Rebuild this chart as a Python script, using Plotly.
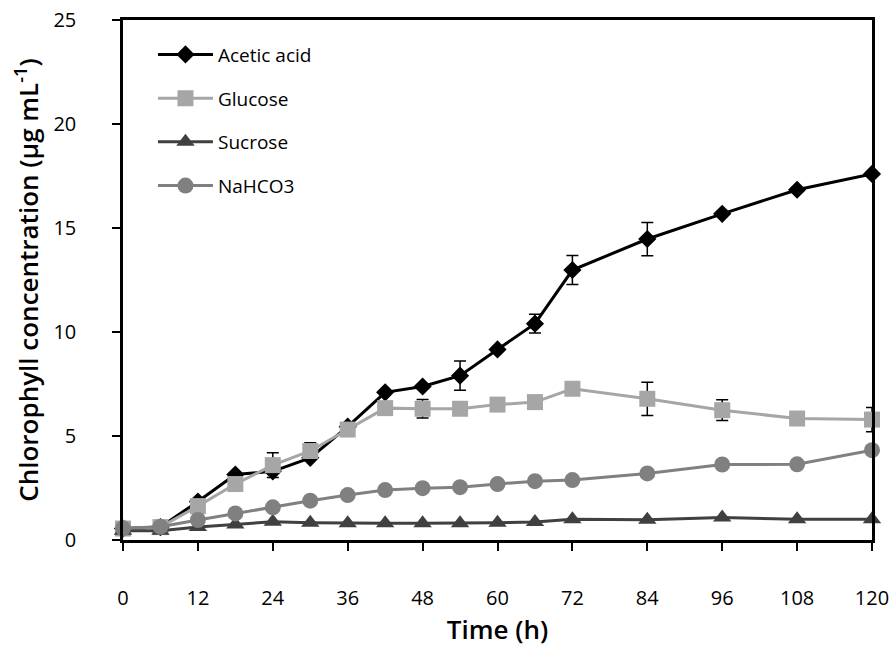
import plotly.graph_objects as go

time_h = [0, 6, 12, 18, 24, 30, 36, 42, 48, 54, 60, 66, 72, 84, 96, 108, 120]

acetic = [0.55, 0.62, 1.85, 3.15, 3.3, 3.95, 5.45, 7.1, 7.38, 7.9, 9.16, 10.4, 12.98, 14.47, 15.68, 16.84, 17.6]
acetic_err = [0, 0, 0, 0, 0, 0, 0, 0, 0, 0.7, 0, 0.45, 0.7, 0.8, 0, 0, 0]

glucose = [0.55, 0.62, 1.63, 2.69, 3.6, 4.28, 5.31, 6.34, 6.31, 6.31, 6.51, 6.63, 7.27, 6.79, 6.24, 5.84, 5.79]
glucose_err = [0, 0, 0, 0, 0.6, 0.4, 0, 0, 0.45, 0, 0, 0, 0, 0.8, 0.5, 0, 0.58]

sucrose = [0.45, 0.45, 0.62, 0.75, 0.88, 0.83, 0.8, 0.8, 0.8, 0.8, 0.83, 0.87, 1.0, 0.97, 1.08, 1.0, 1.0]

nahco3 = [0.56, 0.64, 0.96, 1.28, 1.57, 1.89, 2.16, 2.4, 2.49, 2.54, 2.69, 2.83, 2.88, 3.2, 3.63, 3.64, 4.32]

x_ticks = [0, 12, 24, 36, 48, 60, 72, 84, 96, 108, 120]
y_ticks = [0, 5, 10, 15, 20, 25]

series = [
    ("Acetic acid", acetic, acetic_err, "#000000", "diamond", 14),
    ("Glucose", glucose, glucose_err, "#a6a6a6", "square", 16),
    ("Sucrose", sucrose, None, "#404040", "triangle-up", 16),
    ("NaHCO3", nahco3, None, "#808080", "circle", 16),
]

fig = go.Figure()
for i, (name, vals, err, color, sym, size) in enumerate(series):
    kw = {}
    if err is not None:
        kw["error_y"] = dict(type="data", array=err, visible=True, color="#000000",
                             thickness=1.5, width=6)
    fig.add_trace(go.Scatter(
        x=time_h, y=vals, name=name, mode="lines+markers",
        line=dict(color=color, width=3),
        marker=dict(symbol=sym, size=size, color=color),
        cliponaxis=False, legendgroup=f"g{i}", **kw))

font_main = "Open Sans"
title_font = dict(family="Open Sans", size=26, weight=600, color="#000000")
fig.update_layout(
    width=894, height=648,
    margin=dict(l=123, r=22, t=20, b=108),
    plot_bgcolor="white", paper_bgcolor="white",
    font=dict(family=font_main, color="#000000", size=20),
    showlegend=True,
    legend=dict(x=0.04, y=0.97, xanchor="left", yanchor="top",
                traceorder="grouped", tracegroupgap=16, itemwidth=55,
                font=dict(size=19, family=font_main), bgcolor="rgba(0,0,0,0)"),
    xaxis=dict(range=[0, 120], tickvals=x_ticks, ticktext=[str(v) for v in x_ticks],
               showline=True, linecolor="#000000", linewidth=2.5, mirror=True,
               ticks="outside", ticklen=8, tickwidth=2, tickcolor="#000000",
               showgrid=False, zeroline=False, ticklabelstandoff=30, automargin=False,
               title=dict(text="Time (h)", standoff=12, font=title_font)),
    yaxis=dict(range=[0, 25], tickvals=y_ticks, ticktext=[str(v) for v in y_ticks],
               showline=True, linecolor="#000000", linewidth=2.5, mirror=True,
               ticks="outside", ticklen=8, tickwidth=2, tickcolor="#000000",
               showgrid=False, zeroline=False, ticklabelstandoff=32, automargin=False,
               title=dict(text="Chlorophyll concentration (µg mL<sup>-1</sup>)",
                          standoff=8, font=title_font)),
)

fig.write_html("out.html")
